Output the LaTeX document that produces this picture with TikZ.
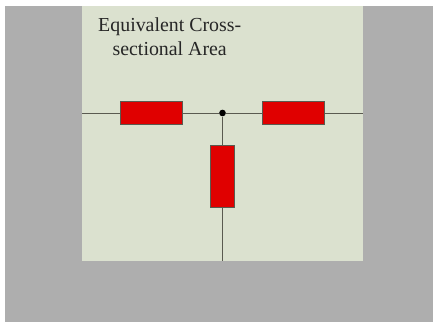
\documentclass[tikz,border=0pt]{standalone}
\usepackage{fontspec}
\setmainfont{Liberation Serif}
\usepackage{xcolor}
\definecolor{wallgray}{RGB}{174,174,174}
\definecolor{areagreen}{RGB}{219,225,207}
\definecolor{barred}{RGB}{224,0,0}
\definecolor{wirecol}{RGB}{90,90,80}

\begin{document}
\begin{tikzpicture}[
  x=0.75pt,y=-0.75pt,
  bar/.style={draw=wirecol,fill=barred,line width=0.5pt,minimum width=46.5pt,minimum height=17.6pt,inner sep=0pt},
  barv/.style={draw=wirecol,fill=barred,line width=0.5pt,minimum width=17.6pt,minimum height=46pt,inner sep=0pt},
  wire/.style={draw=wirecol,line width=0.7pt}
]
  \useasboundingbox (0,0) rectangle (433,324);
  \fill[white] (0,0) rectangle (433,324);
  \fill[wallgray] (5.5,6.5) rectangle (433,261);
  \fill[wallgray] (4.5,261) rectangle (433,322.5);
  \fill[areagreen] (82,6) rectangle (363,261);

  \coordinate (wl) at (82,113);
  \coordinate (wr) at (363,113);
  \coordinate (wb) at (222.5,261);
  \node[circle,fill=black,inner sep=0pt,minimum size=5pt] (dot) at (222.5,113) {};

  \node[bar]  (r1) at (151.2,113) {};
  \node[bar]  (r2) at (293.5,113) {};
  \node[barv] (r3) at (222.5,176.2) {};

  \draw[wire] (wl) -- (r1.west);
  \draw[wire] (r1.east) -- (dot);
  \draw[wire] (dot) -- (r2.west);
  \draw[wire] (r2.east) -- (wr);
  \draw[wire] (dot) -- (r3.north);
  \draw[wire] (r3.south) -- (wb);

  \node[align=center,font=\fontsize{14.9pt}{18pt}\selectfont,text=black!85,inner sep=0pt] (title) at (169.7,36.5)
    {Equivalent Cross-\\sectional Area};
\end{tikzpicture}
\end{document}
